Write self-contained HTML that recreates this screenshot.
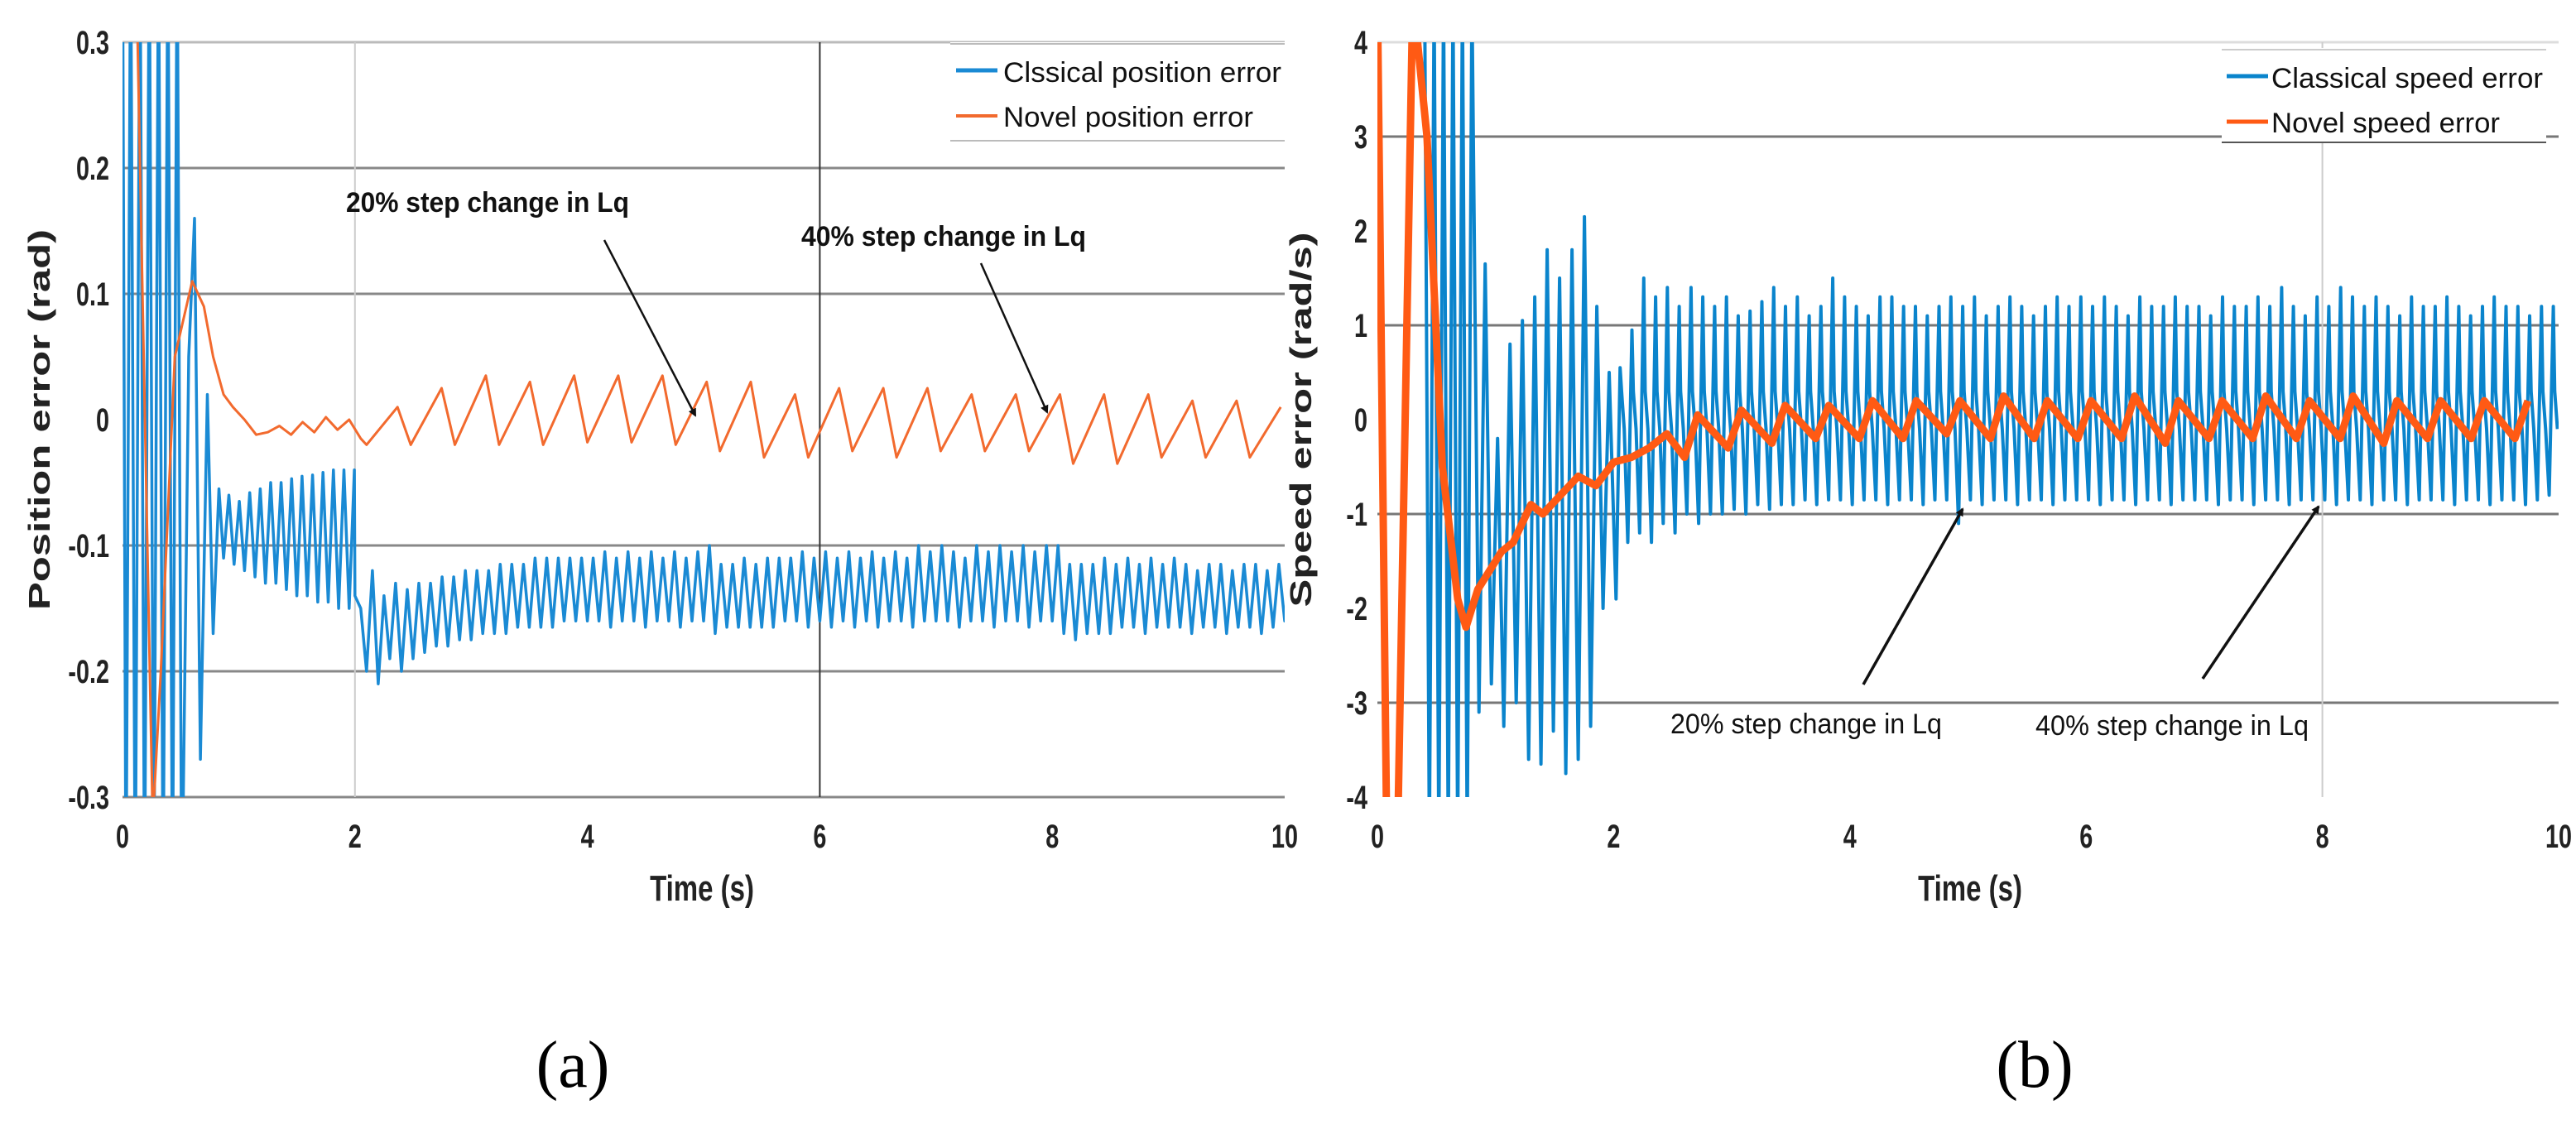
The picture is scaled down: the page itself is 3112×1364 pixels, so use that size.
<!DOCTYPE html>
<html><head><meta charset="utf-8">
<style>
html,body{margin:0;padding:0;background:#fff;}
svg{display:block;}
.tk{font-family:"Liberation Sans",sans-serif;font-size:40px;font-weight:bold;fill:#222;}
.ttl{font-family:"Liberation Sans",sans-serif;font-size:44px;font-weight:bold;fill:#222;}
.yt{font-family:"Liberation Sans",sans-serif;font-size:36px;font-weight:bold;fill:#222;}
.lg{font-family:"Liberation Sans",sans-serif;font-size:34px;fill:#111;}
.an{font-family:"Liberation Sans",sans-serif;font-size:34px;fill:#111;}
.cap{font-family:"Liberation Serif",serif;font-size:80px;fill:#000;}
</style></head><body>
<svg id="fig" width="3112" height="1364" viewBox="0 0 3112 1364" xmlns="http://www.w3.org/2000/svg">
<defs>
<clipPath id="clipL"><rect x="148" y="51" width="1404" height="912"/></clipPath>
<clipPath id="clipR"><rect x="1664" y="51" width="1427" height="912"/></clipPath>
<marker id="ah" markerWidth="10" markerHeight="10" refX="8" refY="5" orient="auto" markerUnits="userSpaceOnUse"><path d="M0,0 L10,5 L0,10 z" fill="#111"/></marker>
</defs>
<g id="chartL"></g>
<g id="chartR"></g>
<text class="cap" x="692" y="1313" text-anchor="middle">(a)</text>
<text class="cap" x="2458" y="1313" text-anchor="middle">(b)</text>
</svg>
<script>
// ---------- data: left chart (position error) ----------
const xTicks = [0, 2, 4, 6, 8, 10];
const posTicks = [0.3, 0.2, 0.1, 0, -0.1, -0.2, -0.3];
const posTickLabels = ["0.3", "0.2", "0.1", "0", "-0.1", "-0.2", "-0.3"];
const posClassicInitT = [0, 0.03, 0.07, 0.11, 0.15, 0.19, 0.23, 0.27, 0.31, 0.35, 0.39, 0.43, 0.47, 0.51, 0.57, 0.62, 0.67, 0.73, 0.78, 0.83];
const posClassicInitV = [0.4, -0.4, 0.4, -0.4, 0.4, -0.4, 0.4, -0.4, 0.4, -0.4, 0.4, -0.4, 0.4, -0.4, 0.05, 0.16, -0.27, 0.02, -0.17, -0.055];
const posClassicPeaks1 = [-0.06, -0.065, -0.058, -0.055, -0.05, -0.05, -0.047, -0.045, -0.044, -0.042, -0.04, -0.04, -0.04];
const posClassicTroughs1 = [-0.11, -0.115, -0.12, -0.125, -0.13, -0.13, -0.135, -0.14, -0.14, -0.145, -0.145, -0.15, -0.15];
const posClassicPeaks2 = [-0.12,-0.14,-0.13,-0.135,-0.13,-0.13,-0.125,-0.125,-0.12,-0.12,
 -0.12,-0.115,-0.115,-0.115,-0.11,-0.11,-0.11,-0.11,-0.11,-0.11,
 -0.105,-0.11,-0.105,-0.11,-0.105,-0.11,-0.105,-0.11,-0.105,-0.10,
 -0.115,-0.115,-0.11,-0.115,-0.11,-0.11,-0.11,-0.105,-0.11,-0.105,
 -0.11,-0.105,-0.11,-0.105,-0.11,-0.105,-0.11,-0.10,-0.105,-0.10,
 -0.105,-0.11,-0.10,-0.105,-0.10,-0.105,-0.10,-0.105,-0.10,-0.10,
 -0.115,-0.115,-0.115,-0.11,-0.115,-0.11,-0.115,-0.11,-0.115,-0.11,
 -0.115,-0.12,-0.115,-0.115,-0.12,-0.115,-0.115,-0.12,-0.115,-0.11];
const posClassicTroughs2 = [-0.2,-0.21,-0.19,-0.2,-0.19,-0.185,-0.18,-0.18,-0.175,-0.175,
 -0.17,-0.17,-0.17,-0.165,-0.165,-0.165,-0.165,-0.16,-0.16,-0.16,
 -0.16,-0.165,-0.16,-0.16,-0.165,-0.16,-0.16,-0.165,-0.16,-0.16,
 -0.17,-0.165,-0.165,-0.165,-0.165,-0.165,-0.16,-0.16,-0.165,-0.16,
 -0.165,-0.16,-0.165,-0.16,-0.165,-0.16,-0.16,-0.165,-0.16,-0.16,
 -0.16,-0.165,-0.16,-0.16,-0.165,-0.16,-0.16,-0.165,-0.16,-0.16,
 -0.17,-0.175,-0.17,-0.17,-0.17,-0.165,-0.165,-0.17,-0.165,-0.165,
 -0.165,-0.17,-0.165,-0.165,-0.17,-0.165,-0.165,-0.17,-0.165,-0.16];
const posNovelInitT = [0, 0.12, 0.26, 0.33, 0.45, 0.6, 0.7, 0.78, 0.87, 0.95, 1.05, 1.15, 1.25, 1.35, 1.45, 1.55, 1.65, 1.75, 1.85, 1.95, 2.05];
const posNovelInitV = [0.45, 0.35, -0.32, -0.2, 0.05, 0.11, 0.09, 0.05, 0.02, 0.01, 0.0, -0.012, -0.01, -0.005, -0.012, -0.002, -0.01, 0.002, -0.008, 0.0, -0.015];
const posNovelPeaks = [0.01,0.025,0.035,0.03,0.035,0.035,0.035,0.03,0.03,0.02,0.025,0.025,0.025,0.02,0.02,0.02,0.02,0.02,0.015,0.015,0.01];
const posNovelTroughs = [-0.02,-0.02,-0.02,-0.02,-0.02,-0.018,-0.018,-0.02,-0.025,-0.03,-0.03,-0.025,-0.03,-0.025,-0.025,-0.025,-0.035,-0.035,-0.03,-0.03,-0.03];
// ---------- data: right chart (speed error) ----------
const spdTicks = [4, 3, 2, 1, 0, -1, -2, -3, -4];
const spdTickLabels = ["4", "3", "2", "1", "0", "-1", "-2", "-3", "-4"];
const spdClassicInitT = [0.3, 0.4, 0.44, 0.48, 0.52, 0.56, 0.6, 0.64, 0.68, 0.72, 0.76, 0.8];
const spdClassicInitV = [4.5, 4.5, -4.5, 4.5, -4.5, 4.5, -4.5, 4.5, -4.5, 4.5, -4.5, 4.5];
const spdClassicPeaks1 = [1.65, -0.2, 0.8, 1.05, 1.3, 1.8, 1.5, 1.8, 2.15, 1.2, 0.5];
const spdClassicTroughs1 = [-3.1, -2.8, -3.25, -3.0, -3.6, -3.65, -3.3, -3.75, -3.6, -3.25, -2.0];
const spdClassicPeaks2 = [0.55,0.95,1.5,1.3,1.4,1.2,1.4,1.3,1.2,1.3,
 1.1,1.15,1.25,1.4,1.2,1.3,1.1,1.2,1.5,1.3,
 1.2,1.1,1.3,1.3,1.2,1.2,1.1,1.2,1.3,1.2,
 1.3,1.1,1.2,1.3,1.2,1.1,1.2,1.3,1.2,1.3,
 1.2,1.3,1.2,1.1,1.3,1.2,1.2,1.3,1.2,1.2,
 1.1,1.3,1.2,1.2,1.3,1.2,1.4,1.2,1.1,1.3,
 1.2,1.4,1.3,1.2,1.3,1.2,1.1,1.3,1.2,1.2,
 1.3,1.2,1.1,1.2,1.3,1.2,1.2,1.1,1.2,1.2];
const spdClassicTroughs2 = [-1.9,-1.3,-1.2,-1.3,-1.1,-1.2,-1.0,-1.1,-1.0,-1.0,
 -0.95,-1.0,-0.9,-0.95,-0.9,-0.9,-0.85,-0.9,-0.85,-0.85,
 -0.9,-0.85,-0.85,-0.9,-0.85,-0.85,-0.9,-0.85,-0.85,-1.1,
 -0.85,-0.9,-0.85,-0.85,-0.9,-0.85,-0.85,-0.9,-0.85,-0.85,
 -0.85,-0.9,-0.85,-0.85,-0.9,-0.85,-0.85,-0.9,-0.85,-0.85,
 -0.85,-0.9,-0.85,-0.85,-0.9,-0.85,-0.85,-0.9,-0.85,-0.85,
 -0.85,-0.9,-0.85,-0.85,-0.9,-0.85,-0.85,-0.9,-0.85,-0.85,
 -0.85,-0.9,-0.85,-0.85,-0.9,-0.85,-0.85,-0.9,-0.85,-0.8];
const spdClassicShoulder = [0.3, -0.1];
const spdNovelInitT = [0, 0.08, 0.17, 0.3, 0.42, 0.55, 0.68, 0.75, 0.85, 0.95, 1.05, 1.15, 1.3, 1.4, 1.55, 1.7, 1.85, 2.0, 2.15, 2.3, 2.45];
const spdNovelInitV = [4.5, -4.5, -4.5, 4.5, 3.0, -0.5, -1.9, -2.2, -1.8, -1.6, -1.4, -1.3, -0.9, -1.0, -0.8, -0.6, -0.7, -0.45, -0.4, -0.3, -0.15];
const spdNovelPeaks = [0.05,0.1,0.15,0.15,0.2,0.2,0.2,0.25,0.2,0.2,0.25,0.2,0.2,0.25,0.2,0.25,0.2,0.2,0.2,0.2];
const spdNovelTroughs = [-0.4,-0.3,-0.25,-0.2,-0.2,-0.2,-0.15,-0.2,-0.2,-0.2,-0.2,-0.25,-0.2,-0.2,-0.2,-0.2,-0.25,-0.2,-0.2,-0.2];

const NS = "http://www.w3.org/2000/svg";
function mk(tag, attrs, parent){ const e=document.createElementNS(NS,tag); for(const k in attrs) e.setAttribute(k,attrs[k]); parent.appendChild(e); return e; }

function xL(t){ return 148 + t*140.4; }
function yL(v){ return 507 - v*1520; }
function xR(t){ return 1664 + t*142.7; }
function yR(v){ return 507 - v*114; }

function keyPts(ts, vs, xs, ys){ return ts.map((t,i)=>[xs(t), ys(vs[i])]); }
function oscPts(t0, per, peaks, troughs, xs, ys, riseFrac, shoulder){
  const pts=[];
  for(let i=0;i<peaks.length;i++){
    pts.push([xs(t0+i*per), ys(troughs[i])]);
    pts.push([xs(t0+i*per+per*riseFrac), ys(peaks[i])]);
    if(shoulder){
      pts.push([xs(t0+i*per+per*(riseFrac+0.12)), ys(shoulder[0])]);
      pts.push([xs(t0+i*per+per*(riseFrac+0.35)), ys(shoulder[1])]);
    }
  }
  return pts;
}
function path(pts){ return "M"+pts.map(p=>p[0].toFixed(1)+","+p[1].toFixed(1)).join(" L"); }

function narrowText(parent, x, y, anchor, cls, txt, sx, name){
  const t=mk("text",{x:0,y:0,"text-anchor":anchor,class:cls,transform:`translate(${x},${y}) scale(${sx},1)`},parent);
  t.textContent=txt;
  
  
  return t;
}

function drawChart(g, opt){
  opt.yTicks.forEach((v,i)=>{
    if(opt.gridSkip.includes(v)) return;
    const y=opt.ys(v);
    const gl=mk("line",{x1:opt.x0,x2:opt.x1,y1:y,y2:y,stroke:opt.gridCol(v),"stroke-width":3},g);
    
    
  });
  opt.vGrid.forEach(vg=>{
    const x=opt.xs(vg.t);
    const vl=mk("line",{x1:x,x2:x,y1:51,y2:963,stroke:vg.c,"stroke-width":vg.w},g);
    
    
  });
  opt.yTicks.forEach((v,i)=>{
    narrowText(g, opt.yLabX, opt.ys(v)+14, "end", "tk", opt.yLabels[i], 0.72, 'y-tick-label');
  });
  xTicks.forEach(v=>{
    narrowText(g, opt.xs(v), 1024, "middle", "tk", String(v), 0.72, 'x-tick-label');
  });
  narrowText(g, opt.xTitleX, 1088, "middle", "ttl", "Time (s)", 0.75, 'x-axis-title');
  const yt=mk("text",{x:0,y:0,"text-anchor":"middle",class:"yt",textLength:opt.yTitleLen,lengthAdjust:"spacingAndGlyphs",transform:`translate(${opt.yTitleX},507) rotate(-90)`},g);
  yt.textContent=opt.yTitle;
  
  
}
function fitText(parent, x, y, cls, txt, len, weight, name){
  const t=mk("text",{x:x,y:y,class:cls,textLength:len,lengthAdjust:"spacingAndGlyphs"},parent);
  if(weight) t.setAttribute("font-weight",weight);
  t.textContent=txt;
  
  
  return t;
}

// ---- Left chart ----
const gL=document.getElementById("chartL");
drawChart(gL,{x0:148,x1:1552,xs:xL,ys:yL,yTicks:posTicks,yLabels:posTickLabels,gridSkip:[0],
  gridCol:v=>(v===0.3?"#bbb":"#888"),vGrid:[{t:2,c:"#ccc",w:2},{t:6,c:"#333",w:2}],
  yLabX:132,xTitleX:848,yTitleX:60,yTitleLen:460,yTitle:"Position error (rad)"});
const sL=mk("g",{"clip-path":"url(#clipL)"},gL);


const blueL=[].concat(keyPts(posClassicInitT,posClassicInitV,xL,yL),
  oscPts(0.87,0.09,posClassicPeaks1,posClassicTroughs1,xL,yL,0.5),
  [[xL(2.0),yL(-0.14)],[xL(2.05),yL(-0.15)]],
  oscPts(2.1,0.1,posClassicPeaks2,posClassicTroughs2,xL,yL,0.5));
const pbl=mk("path",{d:path(blueL),fill:"none",stroke:"#1a8ad4","stroke-width":3.5,"stroke-linejoin":"round"},sL);


const orL=[].concat(keyPts(posNovelInitT,posNovelInitV,xL,yL),
  oscPts(2.1,0.38,posNovelPeaks,posNovelTroughs,xL,yL,0.7));
const pol=mk("path",{d:path(orL),fill:"none",stroke:"#f26a2e","stroke-width":3,"stroke-linejoin":"round"},sL);


// legend L
const lgL=mk("g",{},gL);


mk("rect",{x:1148,y:51,width:404,height:119,fill:"#fff"},lgL);
mk("line",{x1:1148,x2:1552,y1:53,y2:53,stroke:"#bbb","stroke-width":2},lgL);
mk("line",{x1:1148,x2:1552,y1:170,y2:170,stroke:"#bbb","stroke-width":2},lgL);
mk("line",{x1:1155,x2:1205,y1:85,y2:85,stroke:"#1a8ad4","stroke-width":5},lgL);
mk("line",{x1:1155,x2:1205,y1:140,y2:140,stroke:"#f26a2e","stroke-width":4},lgL);
fitText(lgL,1212,99,"lg","Clssical position error",336,null,'legend-entry-classical');
fitText(lgL,1212,153,"lg","Novel position error",302,null,'legend-entry-novel');
// annotations L
fitText(gL,418,256,"an","20% step change in Lq",342,"bold",'annotation-20pct');
fitText(gL,968,297,"an","40% step change in Lq",344,"bold",'annotation-40pct');
let ar1=mk("line",{x1:730,y1:290,x2:840,y2:502,stroke:"#111","stroke-width":2.5,"marker-end":"url(#ah)"},gL);


let ar2=mk("line",{x1:1185,y1:318,x2:1265,y2:498,stroke:"#111","stroke-width":2.5,"marker-end":"url(#ah)"},gL);



// ---- Right chart ----
const gR=document.getElementById("chartR");
drawChart(gR,{x0:1664,x1:3091,xs:xR,ys:yR,yTicks:spdTicks,yLabels:spdTickLabels,gridSkip:[2,0,-2,-4],
  gridCol:v=>(v===4?"#ddd":"#777"),vGrid:[{t:8,c:"#ccc",w:2}],
  yLabX:1652,xTitleX:2380,yTitleX:1584,yTitleLen:453,yTitle:"Speed error (rad/s)"});
const sR=mk("g",{"clip-path":"url(#clipR)"},gR);


const blueR=[].concat(keyPts(spdClassicInitT,spdClassicInitV,xR,yR),
  oscPts(0.86,0.105,spdClassicPeaks1,spdClassicTroughs1,xR,yR,0.5),
  oscPts(2.02,0.1,spdClassicPeaks2,spdClassicTroughs2,xR,yR,0.35,spdClassicShoulder));
const pbr=mk("path",{d:path(blueR),fill:"none",stroke:"#0a84cc","stroke-width":4,"stroke-linejoin":"round"},sR);


const orR=[].concat(keyPts(spdNovelInitT,spdNovelInitV,xR,yR),
  oscPts(2.6,0.37,spdNovelPeaks,spdNovelTroughs,xR,yR,0.3));
const por=mk("path",{d:path(orR),fill:"none",stroke:"#ff5a14","stroke-width":9,"stroke-linejoin":"round"},sR);


// legend R
const lgR=mk("g",{},gR);


mk("rect",{x:2684,y:58,width:392,height:114,fill:"#fff"},lgR);
mk("line",{x1:2684,x2:3076,y1:60,y2:60,stroke:"#ccc","stroke-width":2},lgR);
mk("line",{x1:2684,x2:3076,y1:172,y2:172,stroke:"#555","stroke-width":2},lgR);
mk("line",{x1:2690,x2:2740,y1:92,y2:92,stroke:"#0a84cc","stroke-width":5},lgR);
mk("line",{x1:2690,x2:2740,y1:147,y2:147,stroke:"#ff5a14","stroke-width":5},lgR);
fitText(lgR,2744,106,"lg","Classical speed error",328,null,'legend-entry-classical');
fitText(lgR,2744,160,"lg","Novel speed error",276,null,'legend-entry-novel');
fitText(gR,2018,886,"an","20% step change in Lq",328,null,'annotation-20pct');
fitText(gR,2459,888,"an","40% step change in Lq",330,null,'annotation-40pct');
let ar3=mk("line",{x1:2251,y1:827,x2:2371,y2:615,stroke:"#111","stroke-width":3.5,"marker-end":"url(#ah)"},gR);


let ar4=mk("line",{x1:2661,y1:820,x2:2801,y2:612,stroke:"#111","stroke-width":3.5,"marker-end":"url(#ah)"},gR);


</script>
</body></html>
